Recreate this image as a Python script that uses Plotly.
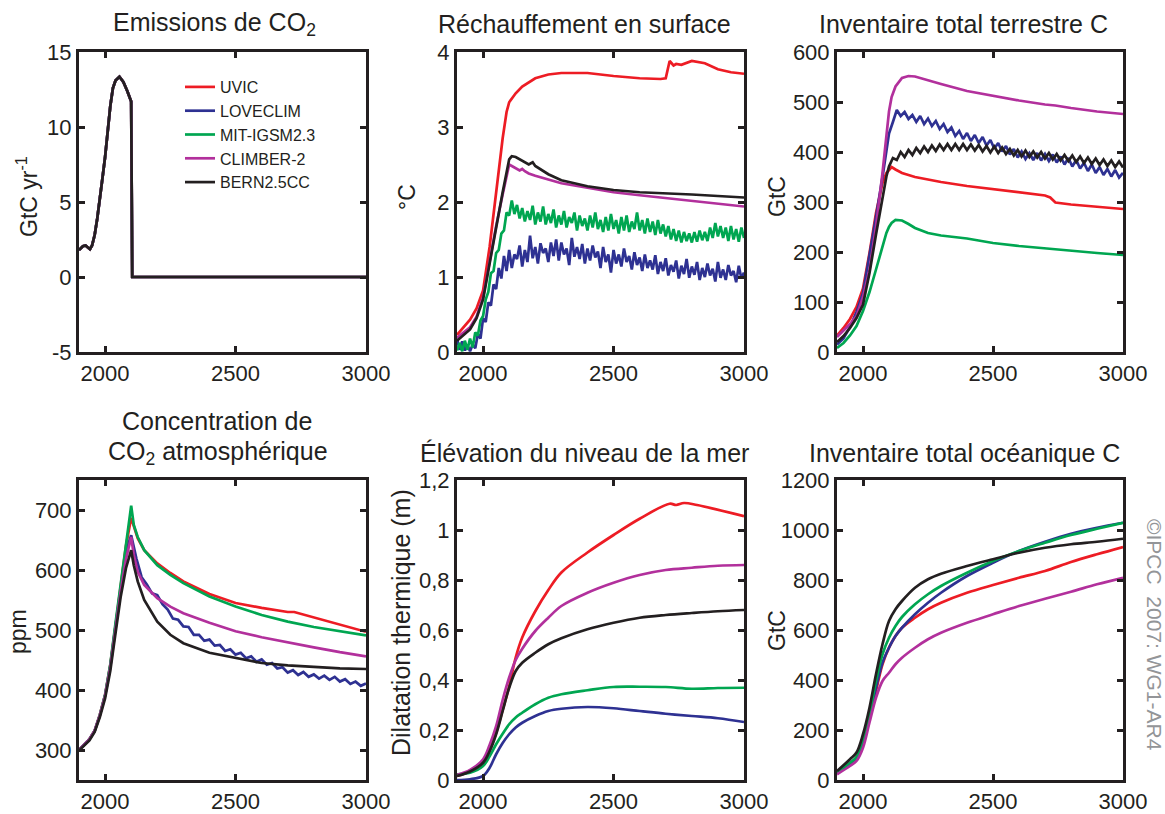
import plotly.graph_objects as go

MODELS = ["UVIC", "LOVECLIM", "MIT-IGSM2.3", "CLIMBER-2", "BERN2.5CC"]
COLORS = ["#ed1c24", "#2e3192", "#00a651", "#b2309c", "#231f20"]
INK = "#231f20"
FONT = "Liberation Sans, Arial, Helvetica, sans-serif"

# --- Emissions de CO2 (GtC/yr), same for all models
EM_YEARS = [1900, 1915, 1925, 1935, 1942, 1950, 1960, 1970, 1980, 1990, 2000, 2010,
            2020, 2030, 2040, 2055, 2070, 2085, 2100, 2104, 3000]
EM_VALUES = [1.8, 2.05, 2.1, 1.92, 1.85, 2.1, 2.8, 3.9, 5.1, 6.6, 8.0, 9.7,
             11.4, 12.6, 13.1, 13.35, 13.0, 12.4, 11.7, 0.0, 0.0]

# --- Rechauffement en surface (degC)
T_YEARS = [1900, 1950, 1975, 2000, 2025, 2050, 2075, 2100, 2110, 2125, 2140, 2150, 2160,
           2175, 2190, 2200, 2250, 2300, 2400, 2500, 2600, 2700, 2800, 2900, 3000]
T_BERN = [0.15, 0.30, 0.45, 0.70, 1.18, 1.67, 2.13, 2.57, 2.61, 2.60, 2.57, 2.56, 2.53,
          2.50, 2.53, 2.48, 2.37, 2.29, 2.21, 2.16, 2.13, 2.12, 2.10, 2.08, 2.06]
T_CLIMBER = [0.19, 0.33, 0.47, 0.73, 1.20, 1.68, 2.10, 2.50, 2.48, 2.45, 2.42, 2.44, 2.41,
             2.38, 2.36, 2.35, 2.30, 2.25, 2.19, 2.13, 2.09, 2.05, 2.02, 1.98, 1.94]
T_UVIC_YEARS = [1900, 1950, 1975, 2000, 2025, 2050, 2075, 2090, 2100, 2125, 2150, 2200, 2250,
                2300, 2400, 2500, 2600, 2680, 2700, 2715, 2730, 2740, 2760, 2800, 2850,
                2900, 2950, 3000]
T_UVIC = [0.23, 0.43, 0.58, 0.82, 1.40, 2.15, 2.85, 3.20, 3.33, 3.45, 3.54, 3.65, 3.70,
          3.72, 3.72, 3.68, 3.65, 3.64, 3.65, 3.88, 3.82, 3.84, 3.83, 3.88, 3.85,
          3.77, 3.73, 3.71]
NOISY_YEARS = list(range(1900, 3001, 10))
T_LOVECLIM = [
    0.18, 0.03, 0.14, 0.02, 0.09, 0.01, 0.10, 0.05, 0.24, 0.18,
    0.45, 0.40, 0.66, 0.62, 0.90, 0.84, 1.12, 0.98, 1.28, 1.08,
    1.36, 1.12, 1.30, 1.24, 1.42, 1.14, 1.36, 1.20, 1.55, 1.25,
    1.40, 1.18, 1.45, 1.32, 1.38, 1.20, 1.46, 1.28, 1.50, 1.22,
    1.46, 1.30, 1.38, 1.16, 1.52, 1.27, 1.40, 1.24, 1.44, 1.18,
    1.38, 1.22, 1.42, 1.26, 1.34, 1.12, 1.40, 1.20, 1.30, 1.06,
    1.36, 1.18, 1.30, 1.14, 1.38, 1.20, 1.28, 1.10, 1.33, 1.16,
    1.26, 1.08, 1.30, 1.12, 1.22, 1.10, 1.29, 1.04, 1.20, 1.08,
    1.25, 1.02, 1.16, 1.07, 1.22, 0.98, 1.15, 1.04, 1.24, 0.99,
    1.14, 1.03, 1.20, 0.96, 1.12, 1.00, 1.18, 1.02, 1.11, 0.94,
    1.20, 0.99, 1.10, 0.96, 1.16, 1.02, 1.08, 0.93, 1.15, 0.98,
    1.06]
T_MIT = [
    0.02, 0.12, 0.01, 0.15, 0.03, 0.18, 0.06, 0.26, 0.22, 0.42,
    0.48, 0.70, 0.80, 1.05, 1.08, 1.32, 1.36, 1.58, 1.62, 1.86,
    1.82, 2.02, 1.84, 1.96, 1.78, 1.92, 1.74, 1.88, 1.76, 1.95,
    1.70, 1.86, 1.74, 1.94, 1.70, 1.84, 1.72, 1.90, 1.66, 1.82,
    1.70, 1.88, 1.66, 1.80, 1.72, 1.86, 1.62, 1.82, 1.68, 1.78,
    1.62, 1.82, 1.66, 1.86, 1.64, 1.76, 1.60, 1.80, 1.62, 1.84,
    1.64, 1.76, 1.58, 1.80, 1.62, 1.82, 1.60, 1.74, 1.64, 1.86,
    1.62, 1.76, 1.58, 1.78, 1.60, 1.74, 1.56, 1.76, 1.58, 1.70,
    1.54, 1.68, 1.50, 1.64, 1.48, 1.62, 1.46, 1.60, 1.48, 1.58,
    1.46, 1.60, 1.47, 1.62, 1.49, 1.60, 1.48, 1.66, 1.52, 1.72,
    1.54, 1.68, 1.52, 1.66, 1.48, 1.68, 1.50, 1.64, 1.47, 1.66,
    1.52]

# --- Inventaire total terrestre C (GtC)
L_YEARS = [1900, 1925, 1950, 1975, 2000, 2025, 2050, 2075, 2090, 2100, 2110, 2125, 2150,
           2175, 2200, 2250, 2300, 2400, 2500, 2600, 2700, 2720, 2740, 2800, 2900, 3000]
L_CLIMBER = [30, 42, 56, 72, 110, 165, 251, 358, 438, 481, 510, 531, 548,
             552, 551, 543, 536, 522, 512, 503, 495, 494, 493, 488, 481, 476]
L_UVIC = [33, 48, 66, 90, 127, 198, 278, 338, 358, 365, 370, 365, 358,
          354, 350, 345, 340, 332, 326, 319, 313, 309, 299, 295, 290, 286]
L_MIT = [8, 18, 33, 52, 82, 120, 165, 210, 238, 250, 258, 264, 263,
         256, 248, 238, 233, 227, 218, 212, 207, 206, 205, 202, 198, 194]
L_LOVECLIM_YEARS = [1900, 1925, 1950, 1975, 2000, 2025, 2050, 2075, 2090] + list(range(2100, 3001, 15))
L_LOVECLIM = [15, 27, 50, 80, 118, 190, 270, 350, 405,
              437, 460, 484, 472, 480, 466, 474, 460, 472, 456,
              467, 452, 462, 446, 456, 440, 449, 432, 442, 426,
              438, 422, 434, 418, 430, 413, 424, 407, 418, 401,
              412, 395, 406, 389, 401, 386, 398, 384, 398, 383,
              396, 382, 395, 379, 391, 375, 388, 371, 384, 367,
              378, 362, 375, 358, 370, 354, 366, 351, 364, 349, 358]
L_BERN_YEARS = [1900, 1925, 1950, 1975, 2000, 2025, 2050, 2075, 2090, 2100] + list(range(2115, 3001, 15))
L_BERN = [20, 32, 48, 68, 95, 158, 235, 311, 351, 371,
          388, 384, 400, 390, 404, 394, 408, 398, 411, 400,
          413, 402, 415, 404, 416, 404, 416, 404, 416, 404,
          415, 403, 414, 401, 412, 399, 411, 398, 409, 396,
          406, 393, 404, 391, 403, 390, 401, 389, 400, 387,
          398, 385, 396, 383, 394, 382, 393, 380, 391, 378,
          389, 376, 387, 374, 385, 372, 383, 370, 381, 369]

# --- Concentration de CO2 atmospherique (ppm)
C_YEARS = [1900, 1920, 1940, 1960, 1980, 2000, 2020, 2040, 2060, 2080, 2100, 2110,
           2125, 2150, 2200, 2250, 2300, 2400, 2500, 2600, 2700, 2800, 2900, 3000]
C_MIT = [300, 309, 318, 332, 359, 392, 443, 512, 580, 648, 707, 675,
         655, 633, 608, 592, 578, 556, 539, 525, 514, 505, 498, 491]
C_CLIMBER = [300, 309, 318, 332, 358, 390, 438, 502, 565, 618, 655, 625,
             597, 575, 553, 539, 528, 512, 498, 488, 479, 471, 463, 456]
C_BERN = [299, 307, 316, 330, 355, 386, 432, 495, 556, 603, 633, 608,
          581, 550, 514, 492, 478, 462, 453, 445, 441, 438, 436, 435]
C_UVIC_YEARS = [1900, 1920, 1940, 1960, 1980, 2000, 2020, 2040, 2060, 2080, 2100, 2110,
                2125, 2150, 2200, 2250, 2300, 2400, 2500, 2600, 2650, 2700, 2725, 2750,
                2800, 2900, 3000]
C_UVIC = [300, 309, 318, 332, 359, 392, 442, 507, 576, 640, 687, 672,
          653, 633, 611, 595, 581, 560, 545, 537, 534, 530, 530, 527,
          521, 510, 497]
C_LOVECLIM_YEARS = [1900, 1920, 1940, 1960, 1980, 2000, 2020, 2040, 2060, 2080, 2100, 2110] + list(range(2120, 3001, 20))
C_LOVECLIM = [300, 309, 318, 332, 358, 391, 440, 506, 572, 630, 658, 636,
              619, 588, 576, 561, 558, 543, 534, 519, 517, 506, 505, 492,
              492, 482, 484, 474, 475, 465, 468, 459, 462, 453, 456, 447,
              451, 442, 445, 436, 438, 429, 433, 425, 430, 422, 426, 419,
              424, 417, 422, 414, 418, 410, 414, 407, 411]

# --- Elevation du niveau de la mer, dilatation thermique (m)
S_YEARS = [1900, 1950, 2000, 2025, 2050, 2075, 2100, 2125, 2150, 2200, 2250, 2300,
           2400, 2500, 2600, 2700, 2800, 2900, 3000]
S_CLIMBER = [0.02, 0.04, 0.083, 0.14, 0.215, 0.32, 0.41, 0.48, 0.525, 0.596, 0.649, 0.696,
             0.749, 0.789, 0.82, 0.84, 0.849, 0.857, 0.86]
S_BERN = [0.016, 0.034, 0.069, 0.115, 0.183, 0.276, 0.369, 0.436, 0.469, 0.509, 0.543, 0.567,
          0.603, 0.629, 0.649, 0.66, 0.668, 0.675, 0.68]
S_MIT = [0.023, 0.029, 0.056, 0.095, 0.143, 0.185, 0.223, 0.25, 0.269, 0.303, 0.329, 0.343,
         0.359, 0.372, 0.373, 0.372, 0.365, 0.368, 0.369]
S_LOVECLIM = [0.0, 0.003, 0.016, 0.049, 0.103, 0.148, 0.183, 0.21, 0.229, 0.256, 0.276, 0.285,
              0.292, 0.287, 0.276, 0.265, 0.256, 0.247, 0.232]
S_UVIC_YEARS = [1900, 1950, 2000, 2025, 2050, 2075, 2100, 2125, 2150, 2200, 2250, 2300,
                2400, 2500, 2600, 2715, 2740, 2770, 2820, 3000]
S_UVIC = [0.016, 0.036, 0.075, 0.12, 0.19, 0.28, 0.375, 0.49, 0.57, 0.675, 0.76, 0.83,
          0.91, 0.98, 1.045, 1.105, 1.1, 1.108, 1.1, 1.055]

# --- Inventaire total oceanique C (GtC)
O_YEARS = [1900, 1950, 1975, 2000, 2025, 2050, 2075, 2100, 2125, 2150, 2200, 2250, 2300,
           2400, 2500, 2600, 2700, 2800, 2900, 3000]
O_BERN = [36, 83, 110, 183, 289, 423, 543, 636, 683, 716, 769, 803, 825,
          856, 883, 909, 929, 943, 953, 965]
O_MIT = [29, 69, 92, 163, 263, 396, 503, 569, 616, 652, 703, 743, 776,
         829, 876, 916, 949, 980, 1005, 1029]
O_LOVECLIM = [29, 65, 89, 149, 250, 369, 469, 529, 576, 609, 663, 709, 749,
              816, 869, 916, 953, 985, 1009, 1029]
O_UVIC = [29, 65, 89, 143, 245, 356, 463, 529, 576, 609, 649, 683, 709,
          749, 780, 809, 836, 872, 903, 932]
O_CLIMBER = [23, 56, 76, 129, 230, 329, 396, 429, 463, 489, 529, 563, 589,
             629, 663, 696, 725, 753, 783, 809]

W, H = 1165, 814
COLS = [(79, 366), (457, 744), (837, 1123)]
ROWS = [(52, 352), (480, 780)]

fig = go.Figure()


def add(panel, years, values, m, shape="linear", legend=False):
    assert len(years) == len(values), (panel, m, len(years), len(values))
    sfx = "" if panel == 1 else str(panel)
    fig.add_trace(go.Scatter(
        x=years, y=values, mode="lines", name=MODELS[m],
        line=dict(color=COLORS[m], width=2.7, shape=shape),
        xaxis="x" + sfx, yaxis="y" + sfx, showlegend=legend, hoverinfo="skip"))


for m in range(5):
    add(1, EM_YEARS, EM_VALUES, m, legend=True)

add(2, T_UVIC_YEARS, T_UVIC, 0)
add(2, NOISY_YEARS, T_LOVECLIM, 1)
add(2, NOISY_YEARS, T_MIT, 2)
add(2, T_YEARS, T_CLIMBER, 3)
add(2, T_YEARS, T_BERN, 4)

add(3, L_YEARS, L_UVIC, 0)
add(3, L_LOVECLIM_YEARS, L_LOVECLIM, 1)
add(3, L_YEARS, L_MIT, 2)
add(3, L_YEARS, L_CLIMBER, 3)
add(3, L_BERN_YEARS, L_BERN, 4)

add(4, C_UVIC_YEARS, C_UVIC, 0)
add(4, C_LOVECLIM_YEARS, C_LOVECLIM, 1)
add(4, C_YEARS, C_MIT, 2)
add(4, C_YEARS, C_CLIMBER, 3)
add(4, C_YEARS, C_BERN, 4)

add(5, S_UVIC_YEARS, S_UVIC, 0, shape="spline")
add(5, S_YEARS, S_LOVECLIM, 1, shape="spline")
add(5, S_YEARS, S_MIT, 2, shape="spline")
add(5, S_YEARS, S_CLIMBER, 3, shape="spline")
add(5, S_YEARS, S_BERN, 4, shape="spline")

add(6, O_YEARS, O_UVIC, 0, shape="spline")
add(6, O_YEARS, O_LOVECLIM, 1, shape="spline")
add(6, O_YEARS, O_MIT, 2, shape="spline")
add(6, O_YEARS, O_CLIMBER, 3, shape="spline")
add(6, O_YEARS, O_BERN, 4, shape="spline")

Y_RANGES = [[-5, 15], [0, 4], [0, 600], [250, 750], [0, 1.2], [0, 1200]]
Y_TICKS = [[-5, 0, 5, 10, 15], [0, 1, 2, 3, 4], [0, 100, 200, 300, 400, 500, 600],
           [300, 400, 500, 600, 700], [0, 0.2, 0.4, 0.6, 0.8, 1, 1.2],
           [0, 200, 400, 600, 800, 1000, 1200]]
Y_TEXT = [["-5", "0", "5", "10", "15"], None, None, None,
          ["0", "0,2", "0,4", "0,6", "0,8", "1", "1,2"], None]

axis_style = dict(showline=True, linecolor=INK, linewidth=3, mirror="ticks",
                  ticks="inside", ticklen=6, tickwidth=2.5, tickcolor=INK,
                  showgrid=False, zeroline=False, automargin=False,
                  tickfont=dict(family=FONT, size=22, color=INK))

layout = dict(width=W, height=H, autosize=False,
              margin=dict(l=0, r=0, t=0, b=0, pad=0),
              paper_bgcolor="white", plot_bgcolor="white",
              font=dict(family=FONT, color=INK),
              legend=dict(x=180 / W, y=1 - 70 / H, xanchor="left", yanchor="top",
                          bgcolor="rgba(0,0,0,0)", font=dict(family=FONT, size=16, color=INK),
                          tracegroupgap=0))

for i in range(6):
    r, c = divmod(i, 3)
    x0, x1 = COLS[c]
    y0, y1 = ROWS[r]
    sfx = "" if i == 0 else str(i + 1)
    xa = dict(axis_style, domain=[x0 / W, x1 / W], range=[1900, 3000],
              tickvals=[2000, 2500, 3000], anchor="y" + sfx, ticklabelstandoff=0)
    ya = dict(axis_style, domain=[1 - y1 / H, 1 - y0 / H], range=Y_RANGES[i],
              tickvals=Y_TICKS[i], anchor="x" + sfx)
    if Y_TEXT[i]:
        ya["ticktext"] = Y_TEXT[i]
    layout["xaxis" + sfx] = xa
    layout["yaxis" + sfx] = ya

fig.update_layout(**layout)

TITLES = [
    ("Emissions de CO<sub>2</sub>", 214, 24),
    ("Réchauffement en surface", 584, 24),
    ("Inventaire total terrestre C", 963, 24),
    ("Concentration de", 217, 421),
    ("CO<sub>2</sub> atmosphérique", 218, 453),
    ("Élévation du niveau de la mer", 584, 453),
    ("Inventaire total océanique C", 964, 453),
]
for text, px, py in TITLES:
    fig.add_annotation(text=text, x=px / W, y=1 - py / H, xref="paper", yref="paper",
                       xanchor="center", yanchor="middle", showarrow=False,
                       font=dict(family=FONT, size=25, color=INK))

YTITLES = [
    ("GtC yr<sup>-1</sup>", 27, 197, 23),
    ("°C", 407, 197, 23),
    ("GtC", 777, 197, 23),
    ("ppm", 18, 632, 23),
    ("Dilatation thermique (m)", 401, 623, 25),
    ("GtC", 777, 631, 23),
]
for text, px, py, fs in YTITLES:
    fig.add_annotation(text=text, x=px / W, y=1 - py / H, xref="paper", yref="paper",
                       xanchor="center", yanchor="middle", showarrow=False, textangle=-90,
                       font=dict(family=FONT, size=fs, color=INK))

fig.add_annotation(text="©IPCC\u00a0 2007: WG1-AR4", x=1155 / W, y=1 - 635 / H,
                   xref="paper", yref="paper", xanchor="center", yanchor="middle",
                   showarrow=False, textangle=90,
                   font=dict(family=FONT, size=21, color="#939598"))

fig.write_html("out.html", config={"displayModeBar": False},
               post_script="document.body.style.margin='0px';")
